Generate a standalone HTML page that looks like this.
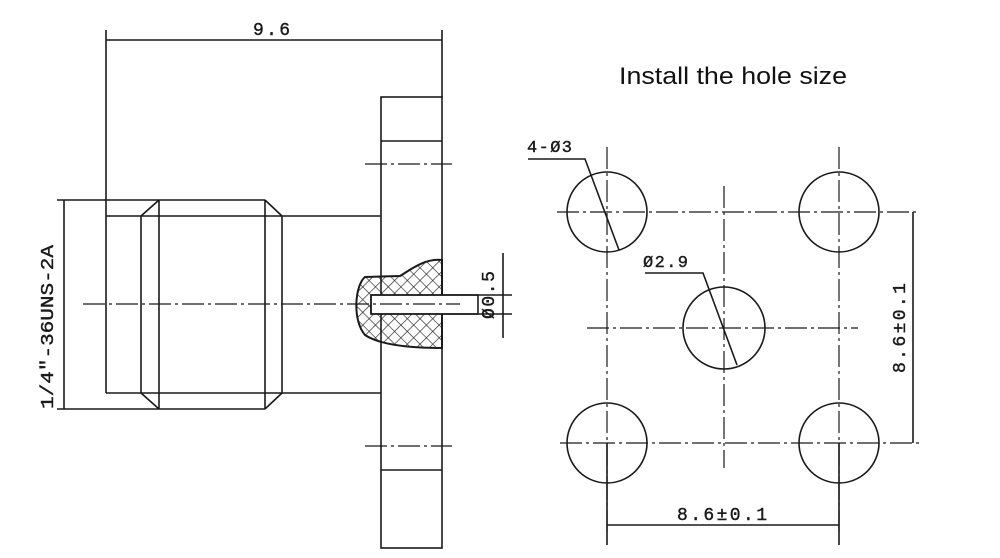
<!DOCTYPE html>
<html><head><meta charset="utf-8"><style>html,body{margin:0;padding:0;background:#fff;}svg{display:block}</style></head>
<body>
<svg width="1000" height="558" viewBox="0 0 1000 558" xmlns="http://www.w3.org/2000/svg">
<defs>
<pattern id="hatch" width="9" height="9" patternUnits="userSpaceOnUse" patternTransform="rotate(45)">
<path d="M0 0H9M0 0V9" stroke="#222" stroke-width="1.3"/>
</pattern>
</defs>
<g stroke="#1a1a1a" stroke-width="1.6" fill="none">
<line x1="106" y1="40" x2="442" y2="40"/>
<line x1="106" y1="30" x2="106" y2="216"/>
<line x1="442" y1="30" x2="442" y2="97"/>
<rect x="381" y="97" width="61" height="451"/>
<line x1="381" y1="141" x2="442" y2="141"/>
<line x1="381" y1="470" x2="442" y2="470"/>
<line x1="106" y1="216" x2="381" y2="216"/>
<line x1="106" y1="393" x2="381" y2="393"/>
<line x1="106" y1="216" x2="106" y2="393"/>
<line x1="57" y1="200" x2="265" y2="200"/>
<line x1="57" y1="409" x2="265" y2="409"/>
<line x1="265" y1="200" x2="282" y2="216"/>
<line x1="265" y1="409" x2="282" y2="393"/>
<line x1="282" y1="216" x2="282" y2="393"/>
<line x1="265" y1="200" x2="265" y2="409"/>
<line x1="159" y1="200" x2="159" y2="409"/>
<line x1="141" y1="216" x2="141" y2="393"/>
<line x1="141" y1="216" x2="159" y2="200"/>
<line x1="141" y1="393" x2="159" y2="409"/>
<line x1="64" y1="200" x2="64" y2="409"/>
<path d="M442 260 C425 258 410 270 400 276 L365 277 C355 285 352 320 365 335 C380 345 410 348 442 348 Z" fill="url(#hatch)" stroke-width="2"/>
<rect x="371" y="295" width="107" height="19" fill="#fff"/>
<line x1="371" y1="295" x2="512" y2="295"/>
<line x1="371" y1="314" x2="512" y2="314"/>
<line x1="371" y1="295" x2="371" y2="314"/>
<line x1="503" y1="253" x2="503" y2="338"/>
</g>
<g stroke="#1a1a1a" stroke-width="1.2" fill="none" stroke-dasharray="22,4,3,4">
<line x1="83" y1="304" x2="460" y2="304"/>
<line x1="365" y1="164" x2="452" y2="164"/>
<line x1="365" y1="446" x2="452" y2="446"/>
<line x1="557" y1="212" x2="920" y2="212"/>
<line x1="560" y1="443" x2="920" y2="443"/>
<line x1="587" y1="328" x2="858" y2="328"/>
<line x1="607" y1="147" x2="607" y2="535"/>
<line x1="839" y1="147" x2="839" y2="535"/>
<line x1="724" y1="186" x2="724" y2="468"/>
</g>
<g stroke="#1a1a1a" stroke-width="1.6" fill="none">
<circle cx="607" cy="212" r="40"/>
<circle cx="839" cy="212" r="40"/>
<circle cx="724" cy="328" r="41"/>
<circle cx="607" cy="443" r="40"/>
<circle cx="839" cy="443" r="40"/>
<line x1="913" y1="212" x2="913" y2="443"/>
<line x1="607" y1="525" x2="839" y2="525"/>
<line x1="607" y1="443" x2="607" y2="545"/>
<line x1="839" y1="443" x2="839" y2="545"/>
<polyline points="528,159 585,159 619,250"/>
<polyline points="645,273 703,273 737,365"/>
</g>
<g font-family="Liberation Mono, monospace" fill="#1a1a1a" font-size="18" stroke="#1a1a1a" stroke-width="0.4" lengthAdjust="spacing">
<text x="253" y="35" textLength="37">9.6</text>
<text transform="translate(53,327) rotate(-90)" text-anchor="middle" textLength="164" lengthAdjust="spacingAndGlyphs">1/4″-36UNS-2A</text>
<text transform="translate(494,295) rotate(-90)" text-anchor="middle" textLength="48">Ø0.5</text>
<text x="527" y="152" font-size="17" textLength="45">4-Ø3</text>
<text x="643" y="267" font-size="17" textLength="45">Ø2.9</text>
<text x="677" y="520" textLength="90">8.6±0.1</text>
<text transform="translate(905,373) rotate(-90)" textLength="90">8.6±0.1</text>
</g>
<text x="619" y="84" font-family="Liberation Sans, sans-serif" font-size="24" fill="#111" textLength="228" lengthAdjust="spacingAndGlyphs">Install the hole size</text>
</svg>
</body></html>
